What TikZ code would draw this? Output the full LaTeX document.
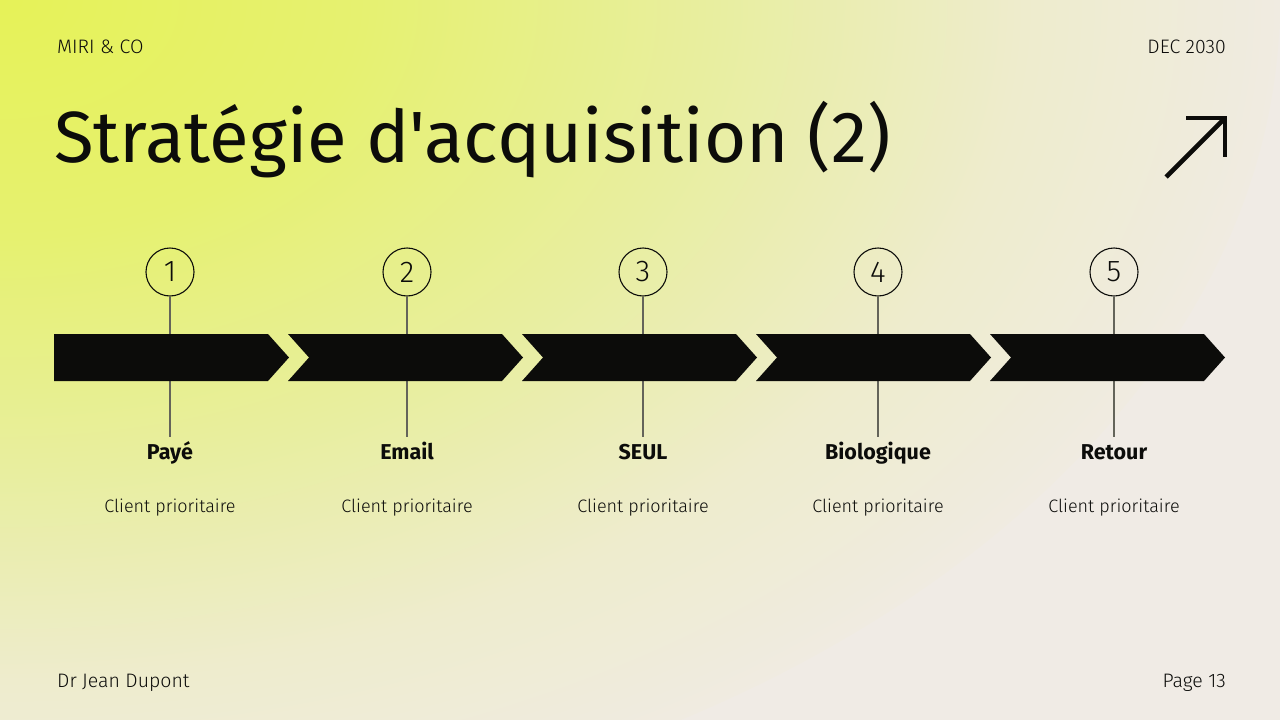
\documentclass[tikz,border=0pt]{standalone}
\usepackage{fontspec}
\setmainfont{Fira Sans}
\newfontfamily\lightfont{Fira Sans Light}
\newfontfamily\titlefont[Ligatures=TeXOff]{Fira Sans}
\usetikzlibrary{calc}
\definecolor{bgbeige}{RGB}{240,235,229}
\definecolor{ya}{RGB}{230,242,88}
\definecolor{yb}{RGB}{230,241,112}
\definecolor{yc}{RGB}{232,238,160}
\definecolor{yd}{RGB}{238,236,205}
\definecolor{ink}{RGB}{12,12,10}
\definecolor{stem}{RGB}{100,100,90}
\pgfdeclareradialshading{bgshade}{\pgfpoint{0bp}{0bp}}{color(0bp)=(ya); color(7bp)=(yb); color(14bp)=(yc); color(20bp)=(yd); color(26bp)=(bgbeige); color(50bp)=(bgbeige)}
\tikzset{
  small/.style={font=\fontsize{19.5}{22}\selectfont\lightfont, text=ink, inner sep=0pt},
  numcirc/.style={circle, draw=ink, line width=1.1pt, minimum size=48pt, inner sep=0pt, font=\fontsize{30}{32}\selectfont\lightfont, text=ink},
  stemline/.style={draw=stem, line width=1.4pt},
  chev/.style={fill=ink},
  lbl/.style={font=\fontsize{21.5}{24}\selectfont\bfseries, text=ink, inner sep=0pt, anchor=base},
  sub/.style={font=\fontsize{18}{20}\selectfont\lightfont, text=ink, inner sep=0pt, anchor=base},
}
\begin{document}
\begin{tikzpicture}[x=1pt,y=-1pt]
\useasboundingbox (0,0) rectangle (1280,720);
\fill[bgbeige] (0,0) rectangle (1280,720);
\begin{scope}
\clip (0,0) rectangle (1280,720);
\shade[shading=bgshade] (0,0) ellipse [x radius=1280, y radius=850];
\end{scope}
% header / footer
\node[small, anchor=base west] (brand) at (57,53) {MIRI \& CO};
\node[small, anchor=base east] (date) at (1226,53) {DEC 2030};
\node[small, anchor=base west] (author) at (57,687) {Dr Jean Dupont};
\node[small, anchor=base east] (page) at (1226,687) {Page 13};
\node[font=\fontsize{72.5}{76}\selectfont\titlefont, text=ink, inner sep=0pt, anchor=base west] (title) at (54,162) {Stratégie d'acquisition (2)};
% arrow icon
\coordinate (ic) at (1225,118);
\coordinate (ia) at (1186,118);
\coordinate (ib) at (1225,157);
\coordinate (id) at (1166,177);
\draw[ink, line width=4.6pt, line join=miter] (ia) -- (ic) -- (ib);
\draw[ink, line width=4.6pt] (id) -- (ic);
% stems and circles
\foreach \i/\x/\lab in {1/170/Payé,2/407/Email,3/643/SEUL,4/878/Biologique,5/1114/Retour}{
  \node[numcirc] (c\i) at (\x,272) {\i};
  \coordinate (e\i) at (\x,437);
  \draw[stemline] (c\i.south) -- (e\i);
  \node[lbl] (l\i) at (\x,459) {\lab};
  \node[sub] (s\i) at (\x,512) {Client prioritaire};
}
% chevrons
\fill[chev] (54,334) -- (268,334) -- (289,357.5) -- (268,381) -- (54,381) -- cycle;
\foreach \k in {1,2,3,4}{
  \pgfmathsetmacro{\L}{54+234*\k}
  \fill[chev] (\L,334) -- (\L+214,334) -- (\L+235,357.5) -- (\L+214,381) -- (\L,381) -- (\L+21,357.5) -- cycle;
}
\end{tikzpicture}
\end{document}
